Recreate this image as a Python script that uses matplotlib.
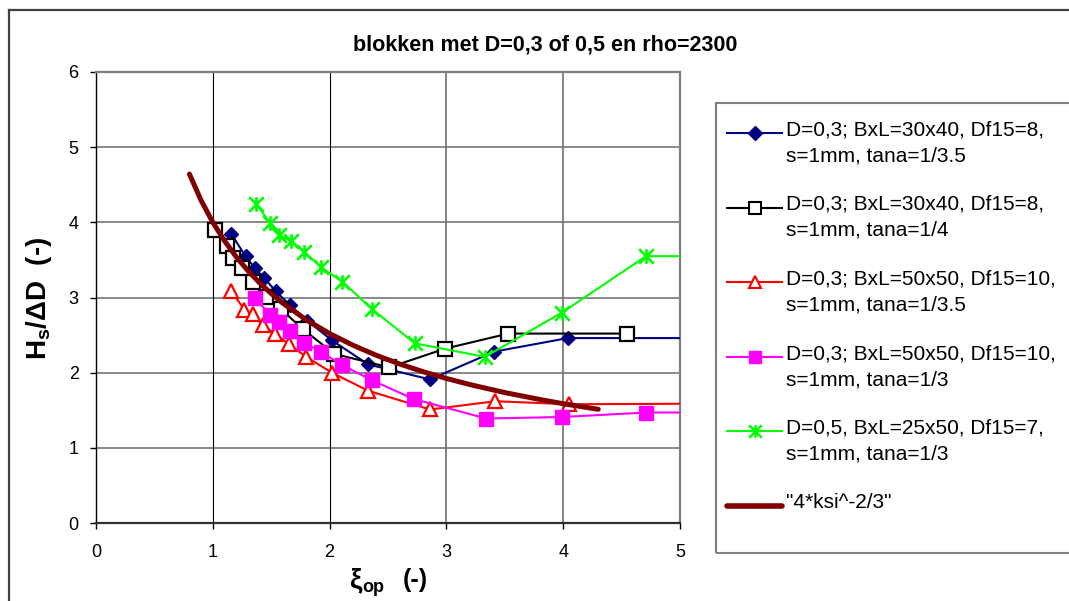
import matplotlib
matplotlib.use("Agg")
import matplotlib.pyplot as plt
from matplotlib.lines import Line2D
from matplotlib.patches import Rectangle
from matplotlib.path import Path

plt.rcParams['font.family'] = ['Liberation Sans', 'DejaVu Sans']
plt.rcParams['mathtext.fontset'] = 'custom'
plt.rcParams['mathtext.rm'] = 'Liberation Sans'
plt.rcParams['mathtext.bf'] = 'Liberation Sans:bold'
plt.rcParams['mathtext.it'] = 'Liberation Sans:italic'

# ---------------- data ----------------
navy_x = [1.16, 1.28, 1.36, 1.44, 1.54, 1.66, 1.81, 2.02, 2.33, 2.86, 3.41, 4.04, 5.6]
navy_y = [3.84, 3.55, 3.39, 3.26, 3.08, 2.90, 2.69, 2.43, 2.11, 1.91, 2.28, 2.46, 2.46]

black_x = [1.02, 1.12, 1.17, 1.25, 1.34, 1.455, 1.58, 1.77, 2.04, 2.51, 2.99, 3.53, 4.55]
black_y = [3.90, 3.68, 3.53, 3.39, 3.20, 3.01, 2.85, 2.58, 2.25, 2.07, 2.32, 2.52, 2.52]

red_x = [1.16, 1.27, 1.34, 1.43, 1.53, 1.65, 1.80, 2.02, 2.33, 2.86, 3.42, 4.05, 5.6]
red_y = [3.08, 2.84, 2.78, 2.63, 2.52, 2.38, 2.21, 2.00, 1.76, 1.51, 1.62, 1.58, 1.59]

mag_x = [1.36, 1.49, 1.57, 1.66, 1.78, 1.93, 2.11, 2.36, 2.72, 3.34, 3.99, 4.71, 5.6]
mag_y = [3.00, 2.77, 2.67, 2.55, 2.40, 2.27, 2.10, 1.90, 1.65, 1.39, 1.41, 1.47, 1.47]

green_x = [1.37, 1.49, 1.57, 1.67, 1.78, 1.93, 2.11, 2.36, 2.73, 3.33, 3.99, 4.71, 5.6]
green_y = [4.25, 3.99, 3.83, 3.75, 3.61, 3.40, 3.21, 2.85, 2.39, 2.21, 2.80, 3.55, 3.55]

curve_x = [0.8, 0.9, 1.0, 1.1, 1.2, 1.3, 1.4, 1.5, 1.6, 1.8, 2.0, 2.2, 2.4, 2.6,
           2.8, 3.0, 3.2, 3.5, 3.8, 4.0, 4.3]
curve_y = [4.642, 4.291, 4.000, 3.754, 3.542, 3.358, 3.196, 3.053, 2.924, 2.703,
           2.520, 2.365, 2.231, 2.115, 2.013, 1.923, 1.842, 1.735, 1.643, 1.587, 1.513]

labels = [
    ["D=0,3; BxL=30x40, Df15=8,", "s=1mm, tana=1/3.5"],
    ["D=0,3; BxL=30x40, Df15=8,", "s=1mm, tana=1/4"],
    ["D=0,3; BxL=50x50, Df15=10,", "s=1mm, tana=1/3.5"],
    ["D=0,3; BxL=50x50, Df15=10,", "s=1mm, tana=1/3"],
    ["D=0,5, BxL=25x50, Df15=7,", "s=1mm, tana=1/3"],
    ['"4*ksi^-2/3"'],
]
title = "blokken met D=0,3 of 0,5 en rho=2300"
xticks = [0, 1, 2, 3, 4, 5]
yticks = [0, 1, 2, 3, 4, 5, 6]

# ---------------- figure ----------------
W, H = 1069, 601
fig = plt.figure(figsize=(W / 100, H / 100), dpi=100)

def fx(px):
    return px / W

def fy(py):
    return 1 - py / H

ax_l, ax_r, ax_t, ax_b = 96, 680, 72, 523
ax = fig.add_axes([fx(ax_l), fy(ax_b), fx(ax_r - ax_l), (ax_b - ax_t) / H])
ax.set_xlim(0, 5)
ax.set_ylim(0, 6)

# gridlines
for yv in yticks[1:-1]:
    ax.axhline(yv, color='#808080', lw=1.3, zorder=1)
for xv in xticks[1:-1]:
    if xv <= 2:
        ax.axvline(xv, color='#000000', lw=0.8, zorder=1)
    else:
        ax.axvline(xv, color='#707070', lw=1.2, zorder=1)

for s in ['top', 'right']:
    ax.spines[s].set_color('#808080')
    ax.spines[s].set_linewidth(1.6)
ax.spines['left'].set_color('#000000')
ax.spines['left'].set_linewidth(1.0)
ax.spines['bottom'].set_color('#303030')
ax.spines['bottom'].set_linewidth(1.6)

ax.set_xticks(xticks)
ax.set_yticks(yticks)
ax.tick_params(axis='y', direction='out', length=4.5, width=1, pad=8, labelsize=13)
ax.tick_params(axis='x', direction='out', length=4, width=1, pad=11, labelsize=13)

# star (asterisk) marker like Excel: X plus vertical bar
star = Path([(-1, -1), (1, 1), (-1, 1), (1, -1), (0, -1), (0, 1)],
            [Path.MOVETO, Path.LINETO, Path.MOVETO, Path.LINETO, Path.MOVETO, Path.LINETO])

styles = [
    dict(color='#000080', marker='D', ms=7.5, mfc='#000080', mec='#000080', lw=1.5),
    dict(color='#000000', marker='s', ms=10, mfc='white', mec='#000000', mew=1.6, lw=1.5),
    dict(color='#FF0000', marker='^', ms=9.5, mfc='white', mec='#FF0000', mew=1.6, lw=1.5),
    dict(color='#FF00FF', marker='s', ms=10, mfc='#FF00FF', mec='#FF00FF', lw=1.5),
    dict(color='#00FF00', marker=star, ms=10.5, mfc='#00FF00', mec='#00FF00', mew=1.9, lw=1.5),
]
series = [(navy_x, navy_y), (black_x, black_y), (red_x, red_y), (mag_x, mag_y), (green_x, green_y)]
for (xs, ys), st in zip(series, styles):
    ax.plot(xs, ys, zorder=3, **st)
ax.plot(curve_x, curve_y, color='#800000', lw=3.6, solid_capstyle='round', zorder=4)

# title and axis labels
fig.text(fx(545), fy(45), title, ha='center', va='center', fontsize=15.5, fontweight='bold')
fig.text(fx(39), fy(298), "H$\\mathbf{_s}$/\u0394D  (-)", rotation=90,
         ha='center', va='center', fontsize=20, fontweight='bold')
fig.text(fx(349), fy(580), "\u03be", ha='left', va='center', fontsize=20, fontweight='bold')
fig.text(fx(362), fy(587), "op", ha='left', va='center', fontsize=13, fontweight='bold')
fig.text(fx(403), fy(580), "(-)", ha='left', va='center', fontsize=18, fontweight='bold')

# outer chart border
fig.add_artist(Line2D([fx(9), fx(9)], [fy(10), fy(H + 5)], color='#404040', lw=1.6))
fig.add_artist(Line2D([fx(9), fx(W + 5)], [fy(10), fy(10)], color='#404040', lw=1.6))

# legend (manual)
fig.add_artist(Rectangle((fx(716), fy(553)), fx(W + 20 - 716), (553 - 103) / H,
                         fill=False, edgecolor='#808080', lw=1.5))
leg_styles = [
    dict(color='#000080', marker='D', ms=7, mfc='#000080', mec='#000080', lw=1.5),
    dict(color='#000000', marker='s', ms=8.5, mfc='white', mec='#000000', mew=1.5, lw=1.5),
    dict(color='#FF0000', marker='^', ms=9, mfc='white', mec='#FF0000', mew=1.5, lw=1.5),
    dict(color='#FF00FF', marker='s', ms=9, mfc='#FF00FF', mec='#FF00FF', lw=1.5),
    dict(color='#00FF00', marker=star, ms=9, mfc='#00FF00', mec='#00FF00', mew=1.8, lw=1.5),
    dict(color='#800000', lw=4, solid_capstyle='round'),
]
for i, (lab, st) in enumerate(zip(labels, leg_styles)):
    yc = 133 + 74.5 * i
    line_kw = {k: v for k, v in st.items() if k not in ('marker', 'ms', 'mfc', 'mec', 'mew')}
    fig.add_artist(Line2D([fx(727), fx(782)], [fy(yc), fy(yc)], **line_kw))
    if 'marker' in st:
        fig.add_artist(Line2D([fx(754.5)], [fy(yc)], linestyle='none', marker=st['marker'],
                              ms=st['ms'], mfc=st['mfc'], mec=st['mec'], mew=st.get('mew', 1.0)))
    for j, t in enumerate(lab):
        fig.text(fx(786), fy(yc - 3 + 26 * j), t, ha='left', va='center', fontsize=15)

fig.savefig("out.png", dpi=100)
